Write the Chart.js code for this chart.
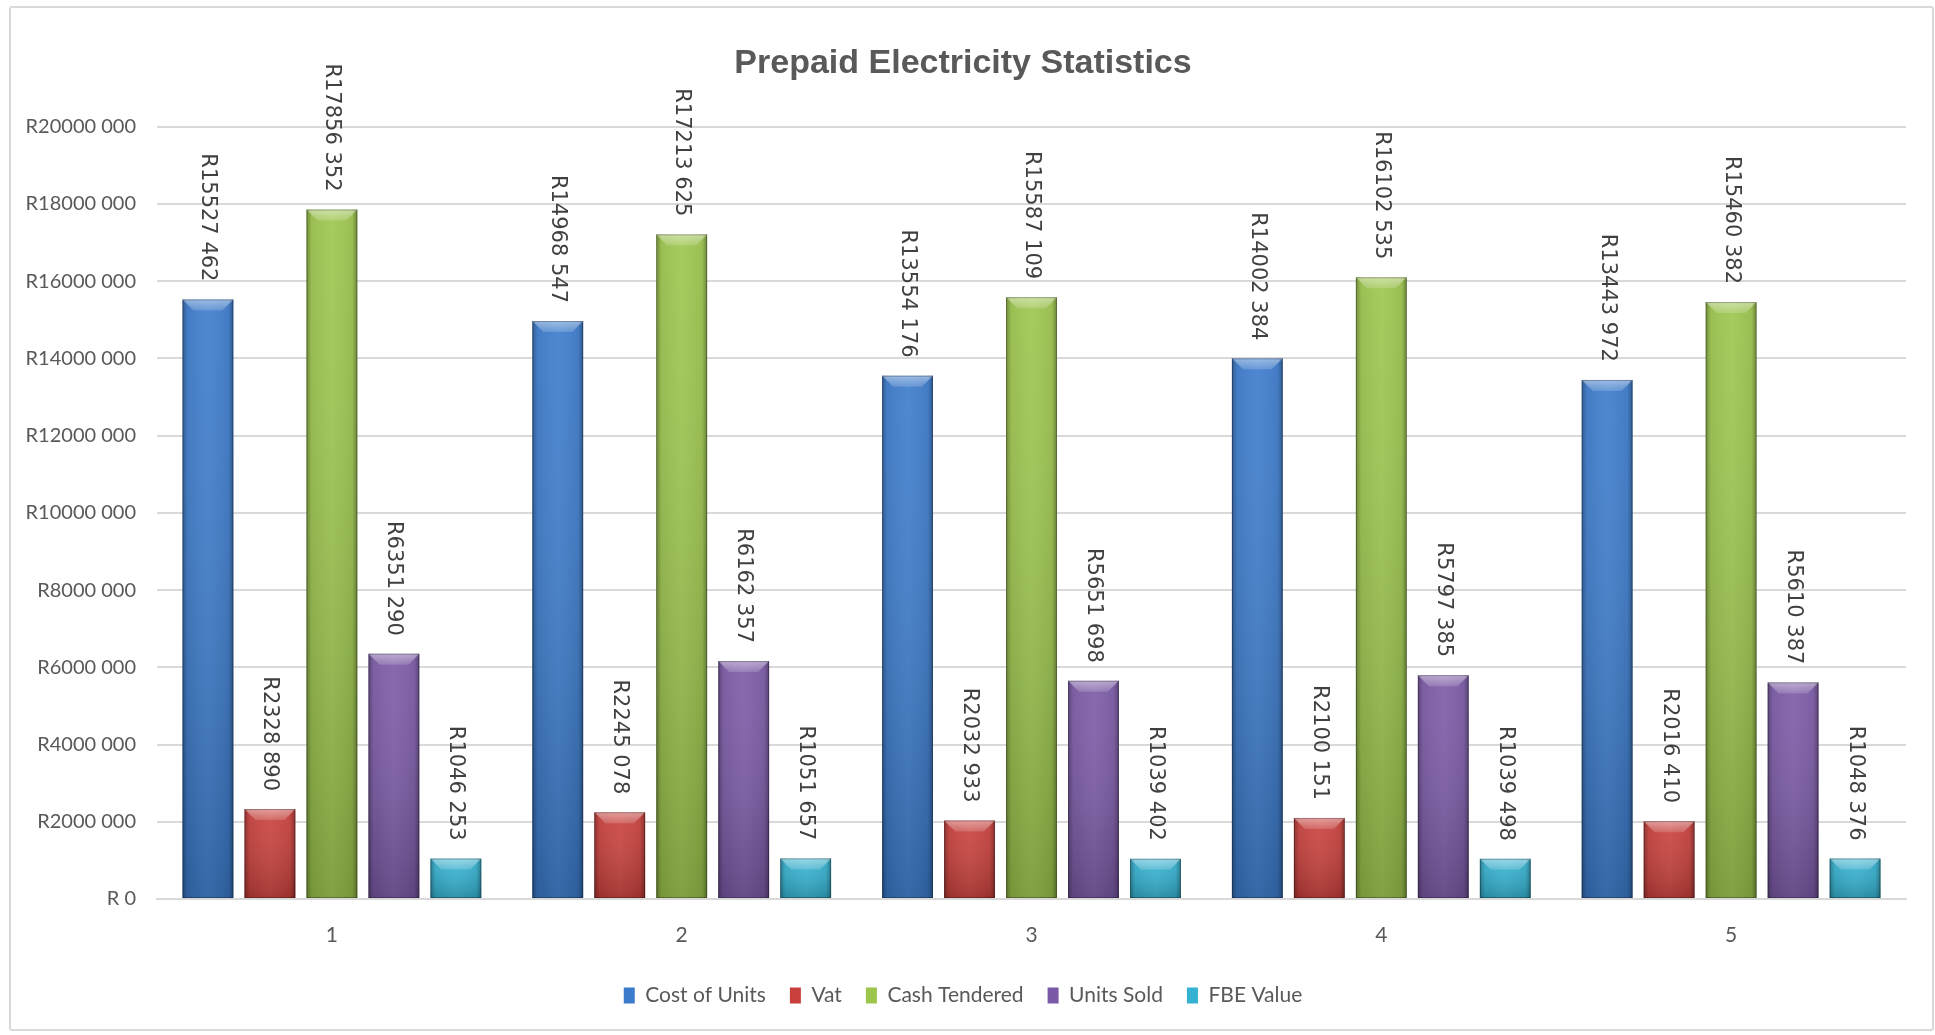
<!DOCTYPE html>
<html>
<head>
<meta charset="utf-8">
<script src="https://cdn.jsdelivr.net/npm/chart.js@4"></script>
<style>
  html, body { margin: 0; padding: 0; background: #ffffff; }
  #wrap { position: relative; width: 1935px; height: 1035px; }
  #frame { position: absolute; left: 9px; top: 6px; width: 1921px; height: 1021px;
           border: 2px solid #d9d9d9; border-radius: 3px; pointer-events: none; }
  canvas { display: block; }
</style>
</head>
<body>
<div id="wrap">
  <canvas id="c" width="1935" height="1035"></canvas>
  <div id="frame"></div>
</div>
<script>
// ---- data ----
const categories = ['1', '2', '3', '4', '5'];
const seriesNames = ['Cost of Units', 'Vat', 'Cash Tendered', 'Units Sold', 'FBE Value'];
const costOfUnits  = [15527462, 14968547, 13554176, 14002384, 13443972];
const vat          = [2328890, 2245078, 2032933, 2100151, 2016410];
const cashTendered = [17856352, 17213625, 15587109, 16102535, 15460382];
const unitsSold    = [6351290, 6162357, 5651698, 5797385, 5610387];
const fbeValue     = [1046253, 1051657, 1039402, 1039498, 1048376];
const yTickMax = 20000000;
const yTickStep = 2000000;

const seriesValues = [costOfUnits, vat, cashTendered, unitsSold, fbeValue];
const seriesColors = ['#3b7bcc', '#c93f3b', '#9cc54c', '#7b59a6', '#33b2d1'];

function fmtRand(v) {
  v = Math.round(v);
  if (v < 1000) return 'R ' + v;
  const hi = Math.floor(v / 1000);
  const lo = String(v % 1000).padStart(3, '0');
  return 'R' + hi + ' ' + lo;
}

const NARROW = "Lato, 'Liberation Sans', sans-serif";

// bevel / shading + value labels drawn from element geometry
const bevelPlugin = {
  id: 'bevel',
  afterDatasetsDraw(chart) {
    const ctx = chart.ctx;
    chart.data.datasets.forEach((ds, di) => {
      const meta = chart.getDatasetMeta(di);
      meta.data.forEach((bar, i) => {
        const p = bar.getProps(['x', 'y', 'base', 'width'], true);
        const l = p.x - p.width / 2, r = p.x + p.width / 2;
        const t = Math.min(p.y, p.base), b = Math.max(p.y, p.base);
        const h = b - t;
        ctx.save();
        let g = ctx.createLinearGradient(0, t, 0, b);
        g.addColorStop(0, 'rgba(255,255,255,0.06)');
        g.addColorStop(1, 'rgba(0,0,0,0.20)');
        ctx.fillStyle = g;
        ctx.fillRect(l, t, p.width, h);
        g = ctx.createLinearGradient(l, 0, r, 0);
        g.addColorStop(0, 'rgba(0,0,0,0.30)');
        g.addColorStop(0.10, 'rgba(0,0,0,0.05)');
        g.addColorStop(0.5, 'rgba(255,255,255,0.04)');
        g.addColorStop(0.90, 'rgba(0,0,0,0.05)');
        g.addColorStop(1, 'rgba(0,0,0,0.32)');
        ctx.fillStyle = g;
        ctx.fillRect(l, t, p.width, h);
        const bv = Math.min(11, h / 2);
        ctx.beginPath();
        ctx.moveTo(l, t); ctx.lineTo(r, t); ctx.lineTo(r - bv, t + bv); ctx.lineTo(l + bv, t + bv); ctx.closePath();
        g = ctx.createLinearGradient(0, t, 0, t + bv);
        g.addColorStop(0, 'rgba(255,255,255,0.45)');
        g.addColorStop(1, 'rgba(255,255,255,0.15)');
        ctx.fillStyle = g;
        ctx.fill();
        ctx.strokeStyle = 'rgba(0,0,0,0.28)';
        ctx.lineWidth = 1;
        ctx.strokeRect(l + 0.5, t + 0.5, p.width - 1, h - 1);
        ctx.restore();

        ctx.save();
        ctx.translate(p.x, t - 18);
        ctx.rotate(Math.PI / 2);
        ctx.font = "21px 'DejaVu Sans', sans-serif";
        ctx.fillStyle = '#404040';
        ctx.textAlign = 'right';
        ctx.textBaseline = 'middle';
        ctx.fillText(fmtRand(ds.data[i]), 0, 0);
        ctx.restore();
      });
    });
  }
};

const chart = new Chart(document.getElementById('c'), {
  type: 'bar',
  data: {
    labels: categories,
    datasets: seriesNames.map((n, k) => ({
      label: n,
      data: seriesValues[k],
      backgroundColor: seriesColors[k],
      borderWidth: 0,
      barPercentage: 0.82,
      categoryPercentage: 0.886
    }))
  },
  options: {
    responsive: false,
    animation: false,
    devicePixelRatio: 1,
    layout: { padding: { left: 20, right: 29, top: 10, bottom: 19 } },
    plugins: {
      title: {
        display: true,
        text: 'Prepaid Electricity Statistics',
        color: '#595959',
        font: { family: "'Liberation Sans', Arial, sans-serif", size: 34, weight: 'bold' },
        padding: { top: 33, bottom: 43 }
      },
      legend: {
        position: 'bottom',
        labels: {
          color: '#595959',
          font: { family: NARROW, size: 21 },
          boxWidth: 11,
          boxHeight: 16,
          padding: 24
        }
      },
      tooltip: { enabled: false }
    },
    scales: {
      x: {
        grid: { display: false, drawTicks: false },
        border: { display: true, color: '#d9d9d9', width: 2 },
        ticks: { color: '#595959', font: { family: NARROW, size: 21 }, padding: 24 },
        afterFit(s) { s.height = 62; }
      },
      y: {
        min: 0,
        max: yTickMax,
        grid: { color: '#d9d9d9', lineWidth: 2, drawTicks: false },
        border: { display: false },
        ticks: {
          stepSize: yTickStep,
          color: '#595959',
          font: { family: NARROW, size: 20 },
          padding: 21,
          callback: (v) => fmtRand(v)
        },
        afterFit(s) { s.width = 137; }
      }
    }
  },
  plugins: [bevelPlugin]
});
</script>
</body>
</html>
